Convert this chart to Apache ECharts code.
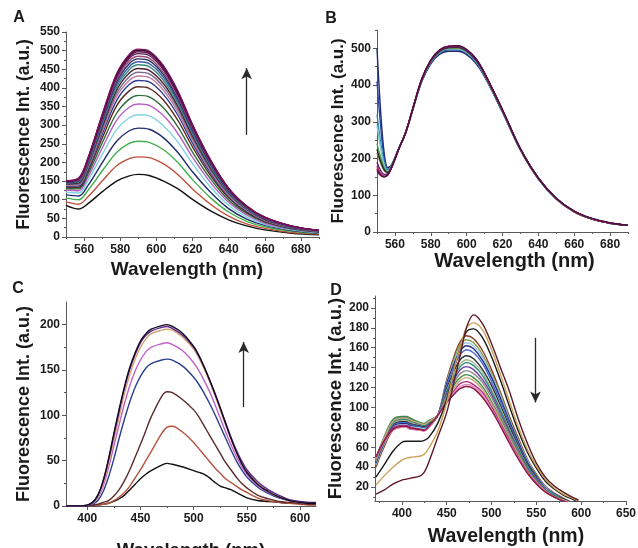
<!DOCTYPE html>
<html><head><meta charset="utf-8">
<script src="https://cdn.jsdelivr.net/npm/echarts@6/dist/echarts.min.js"></script>
<style>html,body{margin:0;padding:0;background:#fff}#c{width:638px;height:548px}</style>
</head><body><div id="c"></div>
<script>
// ---------- Panel A ----------
const A_WL = [550, 557, 562, 570, 578, 585, 590, 596, 604, 612, 620, 630, 640, 650, 660, 675, 690];
const A1 = [85, 75, 89, 121, 150, 164, 168, 165, 150, 129, 101, 70, 46, 30, 19, 10, 6];
const A2 = [95, 88, 107, 150, 191, 210, 215, 213, 196, 167, 129, 88, 56, 35, 23, 12, 8];
const A3 = [105, 100, 124, 177, 227, 251, 257, 254, 234, 199, 154, 105, 67, 42, 27, 15, 9];
const A4 = [113, 110, 137, 199, 257, 285, 292, 289, 266, 226, 175, 120, 76, 48, 31, 17, 10];
const A5 = [120, 118, 150, 221, 288, 320, 328, 325, 298, 254, 197, 134, 85, 54, 34, 19, 11];
const A6 = [126, 124, 159, 238, 313, 348, 357, 353, 325, 277, 214, 146, 93, 59, 37, 21, 12];
const A7 = [130, 129, 167, 252, 332, 370, 380, 376, 346, 295, 228, 156, 99, 63, 40, 22, 13];
const A8 = [134, 133, 174, 265, 352, 392, 403, 399, 367, 312, 242, 165, 105, 66, 42, 23, 14];
const A9 = [137, 137, 179, 276, 366, 409, 420, 416, 382, 326, 252, 172, 109, 69, 44, 24, 15];
const A10 = [139, 140, 184, 283, 377, 420, 432, 428, 393, 335, 259, 177, 112, 71, 45, 25, 15];
const A11 = [141, 142, 187, 289, 385, 430, 442, 438, 402, 343, 265, 181, 115, 73, 46, 26, 15];
const A12 = [143, 145, 191, 295, 394, 440, 452, 447, 411, 350, 271, 185, 118, 75, 47, 26, 16];
const A13 = [145, 148, 195, 302, 402, 449, 462, 457, 420, 358, 277, 189, 120, 76, 49, 27, 16];
const A14 = [146, 150, 198, 307, 409, 457, 470, 465, 428, 364, 282, 193, 122, 78, 49, 27, 16];
const A15 = [147, 152, 201, 312, 416, 465, 478, 473, 435, 370, 287, 196, 124, 79, 50, 28, 17];
const A16 = [148, 153, 203, 316, 422, 472, 485, 480, 441, 376, 291, 199, 126, 80, 51, 28, 17];
const A17 = [149, 155, 206, 320, 428, 479, 492, 487, 448, 381, 295, 202, 128, 81, 52, 29, 17];
const A18 = [150, 156, 207, 323, 432, 483, 497, 492, 452, 385, 298, 204, 129, 82, 52, 29, 17];
const A19 = [150, 157, 209, 326, 436, 487, 501, 496, 456, 388, 301, 205, 130, 83, 53, 29, 18];
const A20 = [151, 158, 210, 328, 438, 490, 504, 499, 459, 391, 302, 207, 131, 83, 53, 29, 18];
const A_X_TICKS = [560, 580, 600, 620, 640, 660, 680];
const A_X_MINOR = [550, 570, 590, 610, 630, 650, 670, 690];
const A_Y_TICKS = [0, 50, 100, 150, 200, 250, 300, 350, 400, 450, 500, 550];
const A_Y_MINOR = [25, 75, 125, 175, 225, 275, 325, 375, 425, 475, 525];
const A_ARROW = [[650, 274], [650, 453]];

// ---------- Panel B ----------
const B_WL = [550, 552, 554, 556, 558, 562, 566, 570, 575, 580, 585, 590, 595, 600, 605, 610, 620, 630, 640, 650, 660, 670, 680, 690];
const B1 = [500, 330, 215, 175, 182, 226, 270, 333, 410, 458, 484, 492, 492, 483, 460, 423, 326, 223, 144, 90, 55, 35, 24, 18];
const B2 = [410, 290, 200, 170, 181, 226, 271, 334, 412, 461, 487, 496, 496, 486, 463, 425, 327, 224, 145, 90, 55, 35, 24, 18];
const B3 = [320, 245, 188, 167, 180, 226, 271, 335, 413, 462, 489, 498, 498, 488, 465, 426, 328, 224, 145, 90, 55, 35, 24, 18];
const B4 = [290, 230, 183, 165, 179, 226, 271, 335, 413, 463, 490, 499, 499, 489, 466, 427, 328, 224, 145, 90, 55, 35, 24, 18];
const B5 = [240, 205, 175, 163, 178, 225, 271, 335, 414, 464, 491, 501, 501, 491, 468, 428, 329, 225, 145, 90, 55, 35, 24, 18];
const B6 = [215, 188, 167, 161, 177, 225, 271, 336, 414, 465, 492, 502, 502, 492, 469, 429, 330, 225, 146, 91, 55, 35, 24, 18];
const B7 = [225, 193, 170, 162, 177, 225, 271, 336, 415, 465, 492, 502, 503, 493, 469, 430, 330, 225, 146, 91, 56, 35, 24, 18];
const B8 = [180, 160, 152, 157, 174, 224, 271, 336, 416, 466, 494, 504, 505, 495, 471, 431, 331, 226, 146, 91, 56, 36, 24, 18];
const B9 = [172, 156, 150, 155, 173, 224, 271, 336, 416, 467, 495, 505, 506, 496, 472, 432, 332, 226, 147, 91, 56, 36, 25, 19];
const B10 = [190, 168, 157, 158, 175, 225, 271, 336, 415, 466, 494, 504, 505, 494, 470, 431, 331, 226, 146, 91, 56, 36, 24, 18];
const B11 = [176, 158, 151, 156, 174, 224, 271, 337, 417, 468, 496, 506, 507, 497, 473, 433, 333, 227, 147, 92, 56, 36, 25, 19];
const B12 = [168, 154, 150, 156, 174, 224, 271, 337, 417, 468, 496, 506, 507, 497, 473, 433, 333, 227, 147, 92, 57, 37, 25, 19];
const B_X_TICKS = [560, 580, 600, 620, 640, 660, 680];
const B_X_MINOR = [550, 570, 590, 610, 630, 650, 670, 690];
const B_Y_TICKS = [0, 100, 200, 300, 400, 500];
const B_Y_MINOR = [50, 150, 250, 350, 450, 550];

// ---------- Panel C ----------
const C_WL = [380, 390, 400, 405, 410, 415, 420, 425, 430, 435, 440, 445, 450, 455, 460, 470, 475, 480, 490, 500, 505, 510, 515, 520, 525, 530, 535, 540, 545, 550, 560, 570, 580, 590, 600, 610, 615];
const C1 = [0, 0, 1, 4, 12, 28, 52, 80, 107, 132, 153, 169, 182, 190, 195, 199, 200, 198, 190, 176, 166, 153, 139, 124, 108, 91, 75, 60, 47, 37, 24, 16, 10, 6, 4, 3, 3];
const C2 = [0, 0, 1, 4, 12, 28, 51, 78, 105, 130, 151, 167, 180, 188, 193, 197, 198, 196, 188, 175, 165, 153, 139, 124, 108, 92, 76, 62, 50, 40, 27, 18, 12, 7, 5, 4, 4];
const C3 = [0, 0, 1, 3, 10, 25, 47, 73, 99, 124, 145, 162, 175, 184, 190, 194, 195, 194, 186, 173, 163, 151, 137, 122, 106, 90, 74, 60, 48, 38, 25, 16, 10, 6, 4, 3, 3];
const C4 = [0, 0, 1, 3, 9, 22, 42, 66, 90, 113, 133, 149, 161, 170, 175, 179, 180, 178, 171, 158, 149, 138, 126, 112, 97, 82, 68, 55, 44, 35, 23, 15, 10, 6, 4, 3, 3];
const C5 = [0, 0, 0, 2, 6, 16, 32, 52, 75, 96, 115, 131, 143, 152, 157, 161, 162, 161, 154, 142, 134, 124, 113, 101, 88, 75, 62, 50, 40, 32, 21, 14, 9, 6, 4, 3, 3];
const C6 = [0, 0, 0, 1, 2, 4, 6, 11, 18, 28, 40, 54, 68, 83, 98, 121, 126, 125, 117, 106, 98, 88, 78, 68, 58, 48, 40, 32, 25, 20, 12, 8, 5, 4, 3, 2, 2];
const C7 = [0, 0, 0, 0, 1, 2, 3, 6, 10, 15, 22, 31, 40, 50, 60, 80, 87, 88, 81, 70, 63, 56, 49, 42, 36, 30, 26, 22, 18, 15, 9, 6, 4, 3, 2, 1, 1];
const C8 = [0, 0, 0, 0, 1, 2, 3, 5, 8, 12, 18, 24, 30, 35, 39, 45, 47, 46, 43, 39, 37, 35, 31, 26, 22, 20, 18, 15, 12, 9, 6, 5, 4, 3, 3, 2, 2];
const C_X_TICKS = [400, 450, 500, 550, 600];
const C_X_MINOR = [425, 475, 525, 575];
const C_Y_TICKS = [0, 50, 100, 150, 200];
const C_Y_MINOR = [25, 75, 125, 175];
const C_ARROW = [[547, 109], [547, 181]];

// ---------- Panel D ----------
const D_WL = [371, 380, 390, 400, 405, 410, 420, 425, 430, 440, 450, 460, 465, 472, 480, 490, 500, 510, 520, 530, 540, 550, 560, 570, 580, 590, 597];
const D1 = [40, 60, 77, 80, 80, 78, 78, 77, 80, 92, 128, 156, 166, 172, 169, 157, 138, 115, 91, 69, 48, 33, 21, 14, 9, 4, 0];
const D2 = [42, 62, 79, 82, 82, 80, 79, 78, 81, 92, 126, 153, 163, 168, 165, 153, 134, 113, 89, 67, 47, 32, 20, 13, 8, 4, 0];
const D3 = [43, 63, 80, 83, 83, 81, 80, 79, 82, 92, 125, 150, 160, 165, 162, 150, 132, 111, 87, 66, 46, 31, 20, 13, 8, 4, 0];
const D4 = [44, 64, 81, 84, 84, 82, 81, 80, 83, 92, 124, 148, 157, 162, 159, 147, 130, 109, 86, 65, 45, 31, 19, 13, 8, 4, 0];
const D5 = [45, 65, 82, 85, 85, 83, 81, 80, 83, 92, 122, 145, 153, 158, 155, 144, 126, 106, 84, 63, 44, 30, 19, 13, 8, 4, 0];
const D6 = [46, 66, 83, 86, 86, 84, 82, 81, 84, 92, 119, 140, 148, 152, 149, 138, 122, 102, 81, 61, 43, 29, 18, 12, 8, 4, 0];
const D7 = [46, 67, 84, 87, 87, 85, 83, 82, 85, 92, 117, 137, 144, 148, 145, 135, 118, 99, 78, 59, 41, 28, 18, 12, 7, 4, 0];
const D8 = [47, 68, 85, 88, 88, 86, 83, 82, 85, 92, 116, 134, 141, 145, 142, 132, 116, 97, 77, 58, 41, 28, 17, 12, 7, 4, 0];
const D9 = [48, 69, 86, 89, 89, 87, 84, 83, 86, 92, 114, 131, 138, 141, 138, 128, 113, 94, 75, 56, 39, 27, 17, 11, 7, 4, 0];
const D10 = [48, 69, 87, 90, 90, 88, 84, 83, 86, 92, 112, 128, 134, 137, 134, 125, 110, 92, 73, 55, 38, 26, 16, 11, 7, 3, 0];
const D11 = [49, 70, 88, 91, 91, 89, 85, 84, 87, 92, 110, 125, 130, 133, 130, 121, 106, 89, 70, 53, 37, 25, 16, 11, 7, 3, 0];
const D12 = [48, 69, 86, 89, 89, 87, 84, 83, 86, 92, 109, 122, 127, 130, 127, 118, 104, 87, 69, 52, 36, 25, 16, 10, 7, 3, 0];
const D13 = [50, 66, 79, 82, 82, 80, 78, 77, 81, 92, 107, 119, 124, 126, 123, 115, 101, 84, 67, 50, 35, 24, 15, 10, 6, 3, 0];
const D14 = [49, 65, 77, 80, 80, 78, 77, 76, 80, 92, 106, 117, 121, 123, 121, 112, 98, 82, 65, 49, 34, 23, 15, 10, 6, 3, 0];
const D15 = [50, 66, 78, 81, 81, 79, 78, 77, 81, 92, 105, 115, 119, 121, 119, 110, 97, 81, 64, 48, 34, 23, 15, 10, 6, 3, 0];
const D16 = [30, 42, 56, 65, 66, 66, 66, 67, 70, 84, 108, 145, 160, 176, 179, 170, 151, 127, 101, 76, 55, 39, 26, 18, 12, 8, 5];
const D17 = [22, 31, 40, 47, 49, 50, 51, 53, 59, 76, 105, 145, 160, 180, 185, 178, 158, 133, 106, 80, 58, 41, 28, 19, 13, 9, 6];
const D18 = [13, 17, 23, 27, 28, 29, 31, 35, 45, 70, 95, 133, 152, 180, 193, 184, 164, 140, 116, 88, 64, 44, 30, 21, 15, 10, 7];
const D_X_TICKS = [400, 450, 500, 550, 600, 650];
const D_X_MINOR = [375, 425, 475, 525, 575, 625];
const D_Y_TICKS = [20, 40, 60, 80, 100, 120, 140, 160, 180, 200];
const D_Y_MINOR = [10, 30, 50, 70, 90, 110, 130, 150, 170, 190, 210];
const D_ARROW = [[549, 170], [549, 105]];

// ---------- build ----------
const FONT = '"Liberation Sans", Arial, sans-serif';
const AXC = '#5a5a5a';
const TXT = '#1a1a1a';

const panels = [
  { grid: {left: 66, top: 32, width: 253, height: 205}, x: [550, 690], y: [0, 550],
    xt: A_X_TICKS, xm: A_X_MINOR, yt: A_Y_TICKS, ym: A_Y_MINOR, xGap: 23, yGap: 33, arrow: A_ARROW,
    xFs: 19, yFs: 17.5, xPad: [0, 11, 0, 0],
    wl: A_WL,
    lines: [[A1,'#111111'],[A2,'#c0503a'],[A3,'#43b04b'],[A4,'#1f2d6b'],[A5,'#7fd3e2'],[A6,'#b75ec4'],
            [A7,'#2f6b3a'],[A8,'#5a2a22'],[A9,'#2b3b8f'],[A10,'#c07aa0'],[A11,'#7a6a8a'],[A12,'#4a2030'],
            [A13,'#3a8a7a'],[A14,'#3d5ca8'],[A15,'#26305a'],[A16,'#9a4a7a'],[A17,'#5a1a5a'],[A18,'#6a1a4a'],
            [A19,'#3a0a3a'],[A20,'#7a1060']] },
  { grid: {left: 377, top: 30, width: 251, height: 202}, x: [550, 690], y: [0, 550],
    xt: B_X_TICKS, xm: B_X_MINOR, yt: B_Y_TICKS, ym: B_Y_MINOR, xGap: 13, yGap: 29, arrow: null,
    xFs: 20, yFs: 17, xPad: [0, 0, 0, 24],
    wl: B_WL,
    lines: [[B1,'#1c2a6e'],[B2,'#2c44a8'],[B3,'#2f8fa0'],[B4,'#7cc9d6'],[B5,'#4f9d4f'],[B6,'#8c8a3c'],
            [B7,'#222222'],[B8,'#c0392b'],[B9,'#7b1f1f'],[B10,'#5a2080'],[B11,'#a0287a'],[B12,'#4a1040']] },
  { grid: {left: 66, top: 302, width: 250, height: 204}, x: [380, 615], y: [0, 225],
    xt: C_X_TICKS, xm: C_X_MINOR, yt: C_Y_TICKS, ym: C_Y_MINOR, xGap: 35, yGap: 33, arrow: C_ARROW,
    xFs: 18.5, yFs: 18, xPad: [0, 0, 0, 0],
    wl: C_WL,
    lines: [[C8,'#111111'],[C7,'#b5523b'],[C6,'#5c2b2b'],[C5,'#2c3e8c'],[C4,'#c060c8'],[C3,'#d4a373'],
            [C2,'#5b2a8a'],[C1,'#140a20']] },
  { grid: {left: 375, top: 296, width: 251, height: 205}, x: [370, 650], y: [6, 212],
    xt: D_X_TICKS, xm: D_X_MINOR, yt: D_Y_TICKS, ym: D_Y_MINOR, xGap: 26, yGap: 29, arrow: D_ARROW,
    xFs: 19.5, yFs: 18.5, xPad: [0, 0, 0, 11],
    wl: D_WL,
    lines: [[D1,'#8b3a2a'],[D2,'#8aa050'],[D3,'#9ec9ea'],[D4,'#26307a'],[D5,'#4a68d0'],[D6,'#303038'],
            [D7,'#a9b98f'],[D8,'#2f8a7c'],[D9,'#6a3aa0'],[D10,'#8a8a8a'],[D11,'#3c8a48'],[D12,'#c9a878'],
            [D13,'#b02f7f'],[D14,'#e08cb8'],[D15,'#8c1848'],[D16,'#1a1a1a'],[D17,'#c9a05a'],[D18,'#5e1a26']] }
];

const grids = [], xAxes = [], yAxes = [], series = [];
const labelStyle = {color: TXT, fontWeight: 'bold', fontSize: 12, fontFamily: FONT};

panels.forEach((p, gi) => {
  grids.push(Object.assign({containLabel: false, outerBoundsMode: 'none'}, p.grid));
  xAxes[gi] = {
    type: 'value', gridIndex: gi, min: p.x[0], max: p.x[1], position: 'bottom',
    axisLine: {onZero: false, lineStyle: {color: AXC, width: 1}},
    axisTick: {show: true, customValues: p.xt, length: 4, lineStyle: {color: AXC}},
    axisLabel: Object.assign({customValues: p.xt, margin: 7}, labelStyle),
    splitLine: {show: false},
    name: 'Wavelength (nm)', nameLocation: 'middle', nameGap: p.xGap,
    nameTextStyle: {color: TXT, fontWeight: 'bold', fontSize: p.xFs, fontFamily: FONT, padding: p.xPad}
  };
  yAxes[gi] = {
    type: 'value', gridIndex: gi, min: p.y[0], max: p.y[1], position: 'left',
    axisLine: {show: true, onZero: false, lineStyle: {color: AXC, width: 1}},
    axisTick: {show: true, customValues: p.yt, length: 4, lineStyle: {color: AXC}},
    axisLabel: Object.assign({customValues: p.yt, margin: 6}, labelStyle),
    splitLine: {show: false},
    name: 'Fluorescence Int. (a.u.)', nameLocation: 'middle', nameGap: p.yGap,
    nameTextStyle: {color: TXT, fontWeight: 'bold', fontSize: p.yFs, fontFamily: FONT}
  };
  xAxes[4 + gi] = {
    type: 'value', gridIndex: gi, min: p.x[0], max: p.x[1], position: 'bottom',
    axisLine: {show: false, onZero: false}, axisLabel: {show: false}, splitLine: {show: false},
    axisTick: {show: true, customValues: p.xm, length: 2, lineStyle: {color: AXC}}
  };
  yAxes[4 + gi] = {
    type: 'value', gridIndex: gi, min: p.y[0], max: p.y[1], position: 'left',
    axisLine: {show: false, onZero: false}, axisLabel: {show: false}, splitLine: {show: false},
    axisTick: {show: true, customValues: p.ym, length: 2, lineStyle: {color: AXC}}
  };
  p.lines.forEach(([vals, color], k) => {
    const s = {
      type: 'line', xAxisIndex: gi, yAxisIndex: gi, showSymbol: false, smooth: 0.35,
      data: p.wl.map((w, i) => [w, vals[i]]),
      lineStyle: {color: color, width: 1.4}, itemStyle: {color: color}, z: 2 + k
    };
    if (k === 0 && p.arrow) {
      s.markLine = {
        silent: true, symbol: ['none', 'arrow'], symbolSize: [8, 11], animation: false,
        lineStyle: {color: '#2a2a2a', width: 1.3, type: 'solid'}, label: {show: false},
        data: [[{coord: p.arrow[0]}, {coord: p.arrow[1]}]]
      };
    }
    series.push(s);
  });
});

const letters = [['A', 19, 18], ['B', 331, 19], ['C', 18, 289], ['D', 336, 291]];

const chart = echarts.init(document.getElementById('c'), null, {renderer: 'canvas'});
chart.setOption({
  animation: false,
  backgroundColor: '#ffffff',
  grid: grids, xAxis: xAxes, yAxis: yAxes, series: series,
  graphic: letters.map(([t, x, y]) => ({
    type: 'text', x: x, y: y,
    style: {text: t, fill: TXT, font: 'bold 16px "Liberation Sans", Arial, sans-serif', align: 'center', verticalAlign: 'middle'}
  }))
});
</script></body></html>
